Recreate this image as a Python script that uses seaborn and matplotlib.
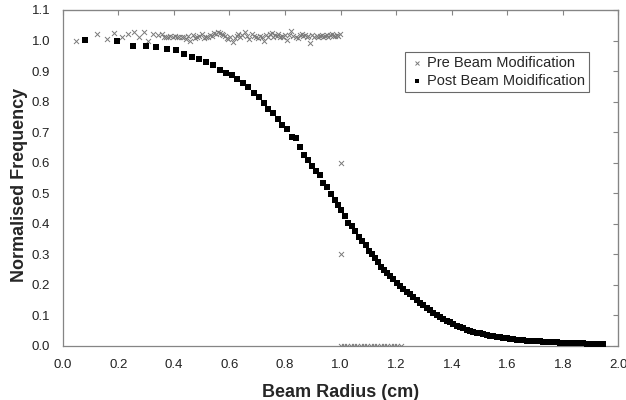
import numpy as np
import pandas as pd
import matplotlib
matplotlib.use("Agg")
import matplotlib.pyplot as plt
import seaborn as sns
from matplotlib.ticker import FormatStrFormatter

# Pre beam modification
pre_x = [0.050, 0.122, 0.158, 0.186, 0.212, 0.236, 0.257, 0.275, 0.294, 0.308, 0.326, 0.342, 0.356,
         0.364, 0.372, 0.380, 0.388, 0.396, 0.404, 0.412, 0.420, 0.428, 0.436, 0.444, 0.452, 0.460,
         0.468, 0.476, 0.484, 0.492, 0.500, 0.508, 0.516, 0.524, 0.530, 0.536, 0.544, 0.552, 0.560,
         0.566, 0.572, 0.578, 0.584, 0.590, 0.596, 0.604, 0.614, 0.620, 0.626, 0.632, 0.640, 0.647,
         0.656, 0.664, 0.671, 0.680, 0.688, 0.695, 0.702, 0.710, 0.718, 0.726, 0.733, 0.740, 0.746,
         0.752, 0.758, 0.764, 0.770, 0.776, 0.782, 0.788, 0.794, 0.800, 0.806, 0.814, 0.822, 0.830,
         0.838, 0.848, 0.854, 0.860, 0.866, 0.872, 0.878, 0.884, 0.890, 0.899, 0.906, 0.914, 0.920,
         0.926, 0.932, 0.938, 0.944, 0.950, 0.956, 0.962, 0.968, 0.974, 0.980, 0.986, 0.992, 0.998,
         1.000, 1.000,
         1.000, 1.012, 1.024, 1.036, 1.048, 1.060, 1.072, 1.084, 1.096, 1.108, 1.120, 1.132, 1.144,
         1.156, 1.168, 1.180, 1.192, 1.204, 1.216]
pre_y = [1.000, 1.020, 1.005, 1.026, 1.013, 1.020, 1.029, 1.010, 1.029, 0.998, 1.021, 1.018, 1.021,
         1.010, 1.013, 1.012, 1.015, 1.013, 1.014, 1.011, 1.013, 1.010, 1.012, 1.006, 1.016, 1.000,
         1.018, 1.008, 1.012, 1.016, 1.021, 1.009, 1.013, 1.010, 1.019, 1.015, 1.026, 1.020, 1.029,
         1.024, 1.023, 1.017, 1.015, 1.009, 1.004, 1.012, 0.996, 1.008, 1.015, 1.021, 1.012, 1.018,
         1.027, 1.014, 1.004, 1.023, 1.016, 1.013, 1.008, 1.015, 1.011, 0.999, 1.017, 1.013, 1.020,
         1.026, 1.012, 1.018, 1.015, 1.023, 1.010, 1.016, 1.013, 1.019, 1.002, 1.017, 1.031, 1.015,
         1.012, 1.007, 1.019, 1.023, 1.014, 1.018, 1.011, 1.016, 0.991, 1.018, 1.012, 1.015, 1.010,
         1.016, 1.018, 1.012, 1.015, 1.018, 1.013, 1.017, 1.021, 1.014, 1.016, 1.018, 1.015, 1.020,
         0.600, 0.300,
         0.0, 0.0, 0.0, 0.0, 0.0, 0.0, 0.0, 0.0, 0.0, 0.0, 0.0, 0.0, 0.0,
         0.0, 0.0, 0.0, 0.0, 0.0, 0.0]

# Post beam modification
post_x = [0.080, 0.194, 0.252, 0.299, 0.337, 0.374, 0.408, 0.437, 0.465, 0.491, 0.517, 0.542,
          0.566, 0.588, 0.608, 0.629, 0.649, 0.668, 0.689, 0.706, 0.724, 0.740, 0.758, 0.776,
          0.788, 0.806, 0.824, 0.839, 0.853, 0.868, 0.883, 0.897, 0.911, 0.925, 0.938, 0.951,
          0.966, 0.979, 0.992, 1.003, 1.016, 1.028, 1.042, 1.053, 1.066, 1.077, 1.091, 1.101,
          1.112, 1.124, 1.135, 1.146, 1.157, 1.167, 1.179, 1.190,
          1.202, 1.214, 1.226, 1.238, 1.250, 1.262, 1.274, 1.286, 1.298, 1.310, 1.322, 1.334,
          1.346, 1.358, 1.370, 1.382, 1.394, 1.406, 1.418, 1.430, 1.442, 1.454, 1.466, 1.478,
          1.490, 1.502, 1.514, 1.526, 1.538, 1.550, 1.562, 1.574, 1.586, 1.598, 1.610, 1.622,
          1.634, 1.646, 1.658, 1.670, 1.682, 1.694, 1.706, 1.718, 1.730, 1.742, 1.754, 1.766,
          1.778, 1.790, 1.802, 1.814, 1.826, 1.838, 1.850, 1.862, 1.874, 1.886, 1.898, 1.910,
          1.922, 1.934, 1.946]
post_y = [1.002, 0.997, 0.983, 0.982, 0.978, 0.971, 0.969, 0.957, 0.945, 0.940, 0.930, 0.920,
          0.903, 0.894, 0.888, 0.874, 0.861, 0.849, 0.829, 0.816, 0.794, 0.777, 0.762, 0.743,
          0.723, 0.710, 0.685, 0.680, 0.651, 0.626, 0.609, 0.590, 0.573, 0.561, 0.533, 0.520,
          0.499, 0.478, 0.461, 0.444, 0.426, 0.404, 0.393, 0.376, 0.357, 0.344, 0.332, 0.310,
          0.301, 0.287, 0.274, 0.260, 0.249, 0.238, 0.228, 0.218,
          0.206, 0.196, 0.187, 0.178, 0.169, 0.160, 0.151, 0.142, 0.134, 0.126, 0.118, 0.108,
          0.101, 0.095, 0.089, 0.083, 0.077, 0.072, 0.067, 0.062, 0.058, 0.054, 0.050, 0.047,
          0.044, 0.041, 0.038, 0.036, 0.034, 0.032, 0.030, 0.028, 0.026, 0.025, 0.023, 0.022,
          0.021, 0.020, 0.019, 0.018, 0.017, 0.016, 0.015, 0.015, 0.014, 0.013, 0.013, 0.012,
          0.012, 0.011, 0.011, 0.010, 0.010, 0.010, 0.009, 0.009, 0.009, 0.008, 0.008, 0.008,
          0.008, 0.007, 0.007]

x_ticks = [0.0, 0.2, 0.4, 0.6, 0.8, 1.0, 1.2, 1.4, 1.6, 1.8, 2.0]
y_ticks = [0.0, 0.1, 0.2, 0.3, 0.4, 0.5, 0.6, 0.7, 0.8, 0.9, 1.0, 1.1]

pre = pd.DataFrame({"radius": pre_x, "freq": pre_y})
post = pd.DataFrame({"radius": post_x, "freq": post_y})

sns.set_style("white")
plt.rcParams["font.family"] = ["Liberation Sans", "DejaVu Sans"]

grey = "#858585"
fig, ax = plt.subplots(figsize=(6.26, 4.0), dpi=100)
fig.subplots_adjust(left=0.1, right=0.988, bottom=0.135, top=0.975)

sns.scatterplot(data=pre, x="radius", y="freq", marker="x", color="#7a7a7a", s=13,
                linewidth=0.7, label="Pre Beam Modification", ax=ax, zorder=3)
sns.scatterplot(data=post, x="radius", y="freq", marker="s", color="black", s=14,
                linewidth=0, label="Post Beam Moidification", ax=ax, zorder=4)

ax.set_xlim(0, 2.0)
ax.set_ylim(0, 1.1)
ax.set_xticks(x_ticks)
ax.set_yticks(y_ticks)
ax.xaxis.set_major_formatter(FormatStrFormatter("%.1f"))
ax.yaxis.set_major_formatter(FormatStrFormatter("%.1f"))
ax.tick_params(axis="both", direction="out", length=4, width=0.8, color=grey,
               labelsize=9.5, labelcolor="#222222", pad=5)

for sp in ax.spines.values():
    sp.set_color(grey)
    sp.set_linewidth(0.9)

# inward ticks on top and right like the original
top = ax.secondary_xaxis("top")
top.set_xticks(x_ticks)
top.tick_params(direction="in", length=3.5, width=0.8, color=grey, labeltop=False)
top.spines["top"].set_color(grey)
right = ax.secondary_yaxis("right")
right.set_yticks(y_ticks)
right.tick_params(direction="in", length=3.5, width=0.8, color=grey, labelright=False)
right.spines["right"].set_color(grey)

ax.set_xlabel("Beam Radius (cm)", fontsize=13, fontweight="bold")
ax.set_ylabel("Normalised Frequency", fontsize=13, fontweight="bold")
ax.xaxis.set_label_coords(0.5, -0.112)
ax.yaxis.set_label_coords(-0.062, 0.48)

leg = ax.legend(loc="upper left", bbox_to_anchor=(0.616, 0.876), borderaxespad=0,
                fontsize=10.5, frameon=True, fancybox=False, handletextpad=0.2,
                handlelength=1.0, borderpad=0.3, labelspacing=0.25, markerscale=0.8)
leg.get_frame().set_edgecolor("#444444")
leg.get_frame().set_linewidth(0.8)

fig.savefig("out.png", dpi=100)
